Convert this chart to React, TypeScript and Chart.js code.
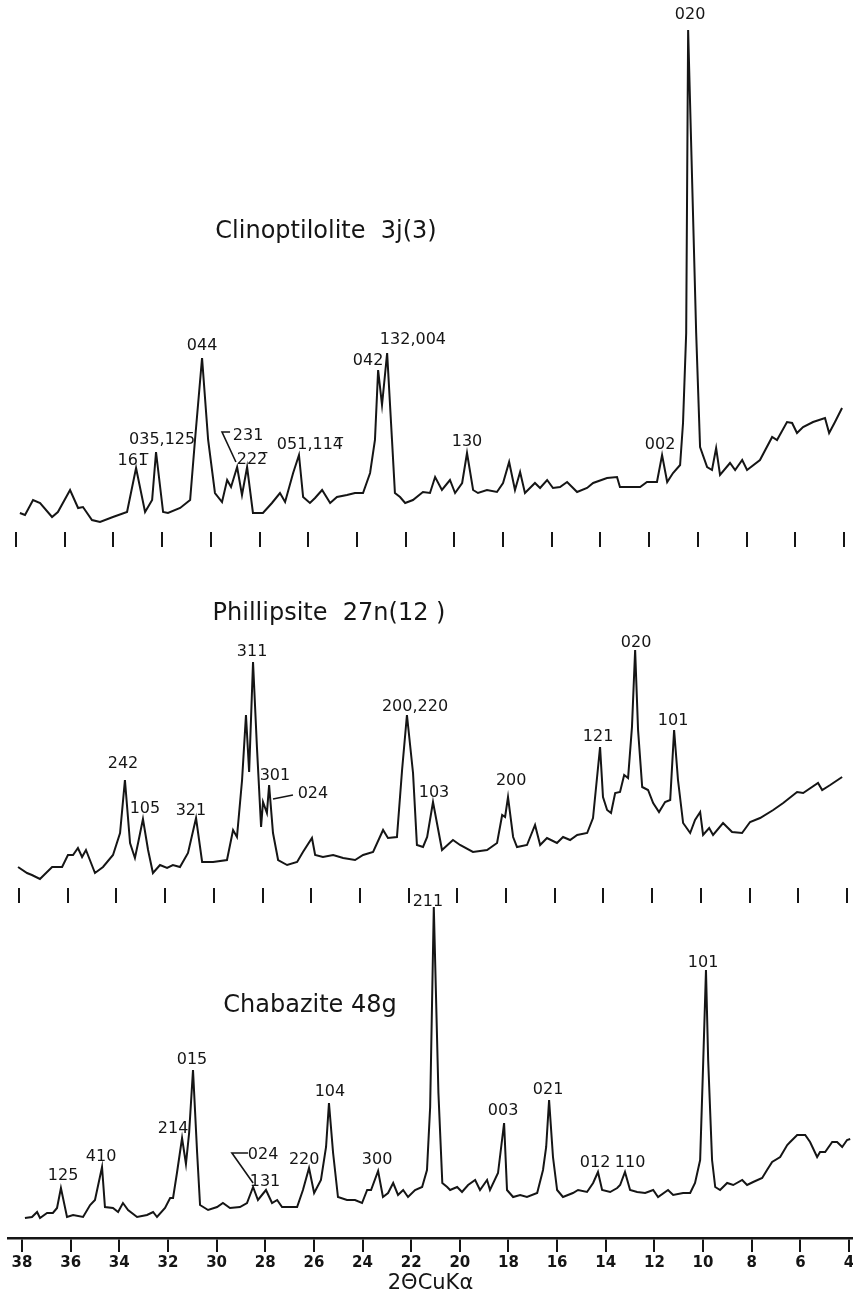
import React, { useEffect, useRef } from "react";
import { Chart, registerables } from "chart.js";

Chart.register(...registerables);

// ---- axis ticks (2θ, degrees) ----
const tickValues = [38, 36, 34, 32, 30, 28, 26, 24, 22, 20, 18, 16, 14, 12, 10, 8, 6, 4];

// ---- Clinoptilolite 3j(3) ----
const clinoTheta = [
  37.84, 37.63, 37.3, 37.01, 36.52, 36.28, 35.78, 35.45, 35.25, 34.88,
  34.55, 34.02, 33.44, 33.07, 32.7, 32.41, 32.25, 31.96, 31.76, 31.26,
  30.85, 30.65, 30.36, 30.11, 29.83, 29.54, 29.33, 29.17, 28.92, 28.72,
  28.51, 28.27, 27.86, 27.49, 27.16, 26.95, 26.62, 26.38, 26.21, 25.93,
  25.72, 25.43, 25.1, 24.82, 24.41, 24.08, 23.75, 23.46, 23.26, 23.13,
  22.97, 22.76, 22.56, 22.44, 22.23, 22.02, 21.7, 21.29, 21.0, 20.79,
  20.51, 20.18, 19.97, 19.68, 19.48, 19.23, 19.03, 18.66, 18.25, 18.0,
  17.75, 17.51, 17.3, 17.1, 16.69, 16.48, 16.19, 15.95, 15.66, 15.37,
  14.96, 14.55, 14.3, 13.73, 13.32, 13.2, 12.78, 12.37, 12.09, 11.68,
  11.47, 11.26, 11.02, 10.73, 10.61, 10.48, 10.4, 10.07, 9.91, 9.62,
  9.42, 9.25, 9.09, 8.68, 8.47, 8.18, 7.98, 7.45, 6.95, 6.75,
  6.34, 6.13, 5.93, 5.68, 5.27, 4.78, 4.61, 4.37, 4.08,
];
const clinoCounts = [
  19, 17, 32, 29, 15, 20, 42, 24, 25, 12,
  10, 15, 20, 64, 20, 32, 80, 20, 19, 24,
  32, 92, 174, 92, 39, 30, 52, 45, 65, 37,
  65, 19, 19, 29, 39, 30, 59, 77, 35, 29,
  34, 42, 29, 35, 37, 39, 39, 59, 92, 162,
  127, 179, 92, 39, 35, 29, 32, 40, 39, 55,
  42, 52, 39, 49, 79, 42, 39, 42, 40, 49,
  70, 42, 60, 39, 49, 44, 52, 44, 45, 50,
  40, 44, 49, 54, 55, 45, 45, 45, 50, 50,
  77, 50, 59, 67, 109, 199, 502, 199, 85, 65,
  62, 84, 57, 69, 62, 72, 62, 72, 95, 92,
  110, 109, 99, 105, 110, 114, 99, 110, 124,
];
const clinoLabelText = ["020", "132,004", "042", "044", "035,125", "161\u0305", "231", "222\u0305", "051,114\u0305", "130", "002"];
const clinoLabelTheta = [10.32, 21.7, 23.54, 30.36, 32.0, 33.2, 28.47, 28.31, 25.93, 19.48, 11.55];
const clinoLabelCount = [517, 192, 171, 186, 92, 71, 96, 72, 87, 90, 87];
const clinoLeaderTheta = [29.21, 29.54, 28.97];
const clinoLeaderCount = [100, 100, 70];
const clinoName = "Clinoptilolite  3j(3)";

// ---- Phillipsite 27n(12) ----
const philTheta = [
  38.04, 37.67, 37.47, 37.14, 36.64, 36.23, 35.99, 35.78, 35.58, 35.41,
  35.25, 34.88, 34.55, 34.14, 33.85, 33.65, 33.44, 33.24, 33.11, 32.91,
  32.7, 32.5, 32.21, 31.92, 31.68, 31.39, 31.06, 30.73, 30.48, 30.03,
  29.46, 29.21, 29.05, 28.84, 28.68, 28.55, 28.39, 28.23, 28.06, 27.98,
  27.82, 27.73, 27.57, 27.36, 26.99, 26.58, 26.34, 25.97, 25.84, 25.52,
  25.1, 24.69, 24.2, 23.87, 23.46, 23.05, 22.85, 22.48, 22.27, 22.07,
  21.82, 21.66, 21.41, 21.24, 21.0, 20.63, 20.18, 19.89, 19.36, 18.78,
  18.37, 18.16, 18.04, 17.92, 17.71, 17.55, 17.14, 16.81, 16.6, 16.32,
  15.91, 15.66, 15.37, 15.08, 14.67, 14.43, 14.14, 14.02, 13.85, 13.69,
  13.52, 13.32, 13.15, 12.99, 12.83, 12.7, 12.58, 12.41, 12.17, 11.96,
  11.72, 11.47, 11.26, 11.1, 10.94, 10.73, 10.44, 10.24, 10.03, 9.91,
  9.66, 9.5, 9.09, 8.72, 8.31, 7.98, 7.57, 7.03, 6.62, 6.05,
  5.8, 5.19, 5.02, 4.69, 4.2,
];
const philCounts = [
  21, 15, 13, 9, 21, 21, 33, 33, 40, 31,
  38, 15, 21, 33, 55, 108, 45, 30, 45, 69,
  38, 15, 23, 20, 23, 21, 35, 70, 26, 26,
  28, 58, 51, 108, 173, 116, 226, 141, 61, 86,
  75, 103, 55, 28, 23, 26, 36, 50, 33, 31,
  33, 30, 28, 33, 36, 58, 50, 51, 118, 173,
  115, 43, 41, 51, 86, 38, 48, 43, 36, 38,
  45, 73, 71, 91, 51, 41, 43, 63, 43, 50,
  45, 51, 48, 53, 55, 70, 141, 91, 78, 75,
  95, 96, 113, 110, 161, 238, 158, 101, 98, 85,
  76, 86, 88, 158, 108, 65, 55, 68, 76, 53,
  60, 53, 65, 56, 55, 66, 70, 78, 85, 96,
  95, 105, 98, 103, 111,
];
const philLabelText = ["311", "242", "105", "321", "301", "024", "200,220", "103", "200", "121", "020", "101"];
const philLabelTheta = [28.43, 33.73, 32.83, 30.94, 27.49, 25.93, 21.74, 20.96, 17.79, 14.22, 12.66, 11.14];
const philLabelCount = [236, 124, 79, 77, 112, 94, 181, 95, 107, 151, 245, 167];
const philLeaderTheta = [27.57, 26.75];
const philLeaderCount = [89, 93];
const philName = "Phillipsite  27n(12 )";

// ---- Chabazite 48g ----
const chabTheta = [
  37.88, 37.59, 37.38, 37.26, 36.97, 36.73, 36.56, 36.4, 36.15, 35.9,
  35.49, 35.2, 35.0, 34.71, 34.59, 34.26, 34.05, 33.85, 33.64, 33.27,
  32.86, 32.61, 32.45, 32.12, 31.91, 31.79, 31.63, 31.42, 31.26, 31.13,
  30.97, 30.8, 30.68, 30.35, 29.98, 29.74, 29.45, 29.04, 28.75, 28.5,
  28.3, 27.97, 27.72, 27.51, 27.31, 26.98, 26.69, 26.45, 26.2, 25.99,
  25.71, 25.5, 25.38, 25.21, 25.01, 24.64, 24.31, 24.02, 23.81, 23.65,
  23.36, 23.16, 22.95, 22.74, 22.54, 22.33, 22.13, 21.84, 21.55, 21.35,
  21.22, 21.07, 20.88, 20.72, 20.52, 20.4, 20.11, 19.91, 19.66, 19.37,
  19.17, 18.88, 18.76, 18.43, 18.18, 18.06, 17.81, 17.52, 17.24, 16.82,
  16.58, 16.45, 16.33, 16.17, 16.0, 15.76, 15.35, 15.14, 14.77, 14.52,
  14.32, 14.15, 13.82, 13.53, 13.41, 13.21, 13.0, 12.71, 12.38, 12.05,
  11.85, 11.44, 11.23, 10.82, 10.53, 10.33, 10.12, 10.0, 9.88, 9.79,
  9.63, 9.5, 9.3, 9.01, 8.76, 8.39, 8.19, 7.94, 7.57, 7.37,
  7.16, 6.83, 6.54, 6.42, 6.13, 5.8, 5.6, 5.31, 5.19, 4.98,
  4.69, 4.49, 4.28, 4.08, 3.95,
];
const chabCounts = [
  20, 21, 26, 20, 25, 25, 30, 50, 21, 23,
  21, 33, 38, 71, 31, 30, 26, 35, 28, 21,
  23, 26, 21, 30, 40, 40, 65, 100, 74, 105,
  168, 85, 33, 28, 31, 35, 30, 31, 35, 51,
  38, 48, 35, 38, 31, 31, 31, 48, 70, 45,
  58, 91, 135, 85, 41, 38, 38, 35, 48, 48,
  67, 41, 45, 55, 43, 48, 41, 48, 51, 68,
  131, 331, 145, 55, 51, 48, 51, 46, 53, 58,
  48, 58, 48, 65, 115, 48, 41, 43, 41, 45,
  68, 91, 138, 81, 48, 41, 45, 48, 46, 55,
  66, 48, 46, 50, 53, 66, 48, 46, 45, 48,
  41, 48, 43, 45, 45, 55, 78, 171, 268, 178,
  78, 51, 48, 55, 53, 58, 53, 56, 60, 68,
  76, 81, 93, 96, 103, 103, 96, 81, 86, 86,
  96, 96, 91, 98, 99,
];
const chabLabelText = ["211", "101", "015", "214", "410", "125", "024", "131", "220", "104", "300", "003", "021", "012", "110"];
const chabLabelTheta = [21.31, 10.0, 31.01, 31.79, 34.75, 36.31, 28.09, 28.01, 26.4, 25.34, 23.4, 18.22, 16.37, 14.44, 13.0];
const chabLabelCount = [336, 275, 178, 109, 81, 62, 83, 56, 78, 146, 78, 127, 148, 75, 75];
const chabLeaderTheta = [28.71, 29.37, 28.5];
const chabLeaderCount = [85, 85, 55];
const chabName = "Chabazite 48g";

const axisTitle = "2\u0398CuK\u03b1";
const INK = "#151515";
const FONT = "'DejaVu Sans', sans-serif";

const annotate = {
  id: "annotate",
  afterDatasetsDraw(chart: any, _args: any, o: any) {
    const { ctx } = chart;
    const xs = chart.scales.x;
    const ys = chart.scales.y;
    ctx.save();
    ctx.fillStyle = INK;
    ctx.strokeStyle = INK;
    ctx.textAlign = "center";
    ctx.textBaseline = "middle";
    ctx.font = "16px " + FONT;
    o.text.forEach((t: string, i: number) => {
      ctx.fillText(t, xs.getPixelForValue(o.theta[i]), ys.getPixelForValue(o.count[i]));
    });
    if (o.leaderTheta && o.leaderTheta.length) {
      ctx.lineWidth = 1.6;
      ctx.beginPath();
      o.leaderTheta.forEach((t: number, i: number) => {
        const px = xs.getPixelForValue(t);
        const py = ys.getPixelForValue(o.leaderCount[i]);
        if (i === 0) ctx.moveTo(px, py);
        else ctx.lineTo(px, py);
      });
      ctx.stroke();
    }
    ctx.font = "24px " + FONT;
    ctx.fillText(o.heading, xs.getPixelForValue(o.headingTheta), ys.getPixelForValue(o.headingCount));

    // tick numbers and axis title of the bottom axis, placed from the x scale itself
    if (o.axisLabels) {
      ctx.font = "bold 15px " + FONT;
      ctx.textBaseline = "top";
      const yTop = xs.top + 14 + 4;
      xs.ticks.forEach((tk: any) => {
        ctx.fillText(String(tk.value), xs.getPixelForValue(tk.value), yTop);
      });
      ctx.font = "21px " + FONT;
      ctx.textBaseline = "middle";
      ctx.fillText(o.axisLabels, (xs.left + xs.right) / 2 - 6, chart.height - 11);
    }
    ctx.restore();
  },
};

function buildConfig(
  theta: number[],
  counts: number[],
  xMin: number,
  xMax: number,
  yMax: number,
  ann: any,
  bottom: boolean
): any {
  return {
    type: "line",
    data: {
      datasets: [
        {
          data: theta.map((t, i) => ({ x: t, y: counts[i] })),
          borderColor: INK,
          borderWidth: 2,
          pointRadius: 0,
          tension: 0,
          fill: false,
        },
      ],
    },
    options: {
      responsive: false,
      animation: false,
      events: [],
      layout: { padding: bottom ? { left: 8, right: 0, top: 0, bottom: 43 } : 0 },
      plugins: {
        legend: { display: false },
        tooltip: { enabled: false },
        annotate: ann,
      },
      scales: {
        x: {
          type: "linear",
          reverse: true,
          min: xMin,
          max: xMax,
          afterBuildTicks: (s: any) => {
            s.ticks = tickValues.map((v) => ({ value: v }));
          },
          grid: {
            drawOnChartArea: false,
            drawTicks: true,
            tickLength: bottom ? 14 : 15,
            color: INK,
            lineWidth: 2,
          },
          border: { display: bottom, color: INK, width: 2.5 },
          ticks: { display: false },
          title: { display: false },
        },
        y: { display: false, min: 0, max: yMax },
      },
    },
    plugins: [annotate],
  };
}

export default function App() {
  const topRef = useRef<HTMLCanvasElement | null>(null);
  const midRef = useRef<HTMLCanvasElement | null>(null);
  const botRef = useRef<HTMLCanvasElement | null>(null);

  useEffect(() => {
    const charts: Chart[] = [];
    if (topRef.current) {
      charts.push(
        new Chart(
          topRef.current,
          buildConfig(clinoTheta, clinoCounts, 3.63, 38.657, 532, {
            text: clinoLabelText,
            theta: clinoLabelTheta,
            count: clinoLabelCount,
            leaderTheta: clinoLeaderTheta,
            leaderCount: clinoLeaderCount,
            heading: clinoName,
            headingTheta: 25.27,
            headingCount: 300,
          }, false)
        )
      );
    }
    if (midRef.current) {
      charts.push(
        new Chart(
          midRef.current,
          buildConfig(philTheta, philCounts, 3.754, 38.78, 341, {
            text: philLabelText,
            theta: philLabelTheta,
            count: philLabelCount,
            leaderTheta: philLeaderTheta,
            leaderCount: philLeaderCount,
            heading: philName,
            headingTheta: 25.27,
            headingCount: 274,
          }, false)
        )
      );
    }
    if (botRef.current) {
      charts.push(
        new Chart(
          botRef.current,
          buildConfig(chabTheta, chabCounts, 3.342, 38.576, 368, {
            text: chabLabelText,
            theta: chabLabelTheta,
            count: chabLabelCount,
            leaderTheta: chabLeaderTheta,
            leaderCount: chabLeaderCount,
            heading: chabName,
            headingTheta: 26.16,
            headingCount: 232,
            axisLabels: axisTitle,
          }, true)
        )
      );
    }
    return () => charts.forEach((c) => c.destroy());
  }, []);

  const base: React.CSSProperties = { position: "absolute", left: 0, display: "block" };
  return (
    <div
      style={{
        position: "fixed",
        left: 0,
        top: 0,
        width: 853,
        height: 1295,
        background: "#fff",
        overflow: "hidden",
      }}
    >
      <canvas ref={topRef} width={853} height={547} style={{ ...base, top: 0, width: 853, height: 547 }} />
      <canvas ref={midRef} width={853} height={356} style={{ ...base, top: 547, width: 853, height: 356 }} />
      <canvas ref={botRef} width={865} height={425} style={{ ...base, top: 870, width: 865, height: 425 }} />
    </div>
  );
}
